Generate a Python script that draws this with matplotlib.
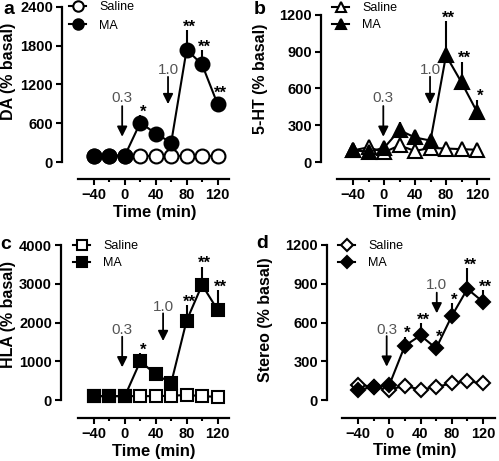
import matplotlib
matplotlib.use("Agg")
import matplotlib.pyplot as plt
import matplotlib.transforms as mtransforms

plt.rcParams["font.family"] = ["Liberation Sans", "DejaVu Sans"]

# sampling times (min)
time = [-40, -20, 0, 20, 40, 60, 80, 100, 120]

# a: DA (% basal)
da_saline = [100, 100, 100, 100, 100, 100, 100, 100, 100]
da_ma = [100, 100, 100, 610, 440, 300, 1740, 1510, 900]
da_ma_err = [0, 0, 0, 110, 0, 0, 300, 220, 110]
da_stars = ["", "", "", "*", "", "", "**", "**", "**"]

# b: 5-HT (% basal)
ht_saline = [95, 120, 80, 135, 90, 115, 110, 105, 100]
ht_ma = [95, 85, 115, 260, 200, 175, 870, 650, 410]
ht_ma_err = [0, 0, 0, 70, 0, 0, 280, 170, 100]
ht_stars = ["", "", "", "", "", "", "**", "**", "*"]

# c: HLA (% basal)
hla_saline = [100, 100, 100, 100, 100, 110, 130, 100, 80]
hla_ma = [100, 100, 100, 1000, 660, 440, 2050, 2970, 2330]
hla_ma_err = [0, 0, 0, 210, 0, 0, 400, 470, 510]
hla_stars = ["", "", "", "*", "", "", "**", "**", "**"]

# d: Stereo (% basal)
st_saline = [120, 100, 80, 110, 80, 100, 130, 145, 130]
st_ma = [80, 100, 115, 420, 500, 400, 650, 860, 760]
st_ma_err = [0, 0, 0, 70, 95, 60, 100, 160, 90]
st_stars = ["", "", "", "*", "**", "*", "*", "**", "**"]

dose_labels = ["0.3", "1.0"]

W, H = 499, 461
fig = plt.figure(figsize=(W / 100, H / 100), dpi=100)
# pixel coords, origin top-left
px = mtransforms.Affine2D().scale(1 / W, -1 / H).translate(0, 1) + fig.transFigure

panels = [
    dict(letter="a", ylabel="DA (% basal)", sal=da_saline, ma=da_ma, err=da_ma_err, stars=da_stars,
         marker="o", ms=10, yticks=[0, 600, 1200, 1800, 2400],
         box=(62, 7, 162, 94, 217.5), xaxis_off=17, letter_xy=(9, 10),
         ylab_xy=(9, 71), xlab_xy=(155, 212), leg_xy=(69, 1), leg_space=0.55,
         arrows=[(-3.5, 984, 865, 391), (55.9, 1421, 1318, 896)]),
    dict(letter="b", ylabel="5-HT (% basal)", sal=ht_saline, ma=ht_ma, err=ht_ma_err, stars=ht_stars,
         marker="^", ms=10, yticks=[0, 300, 600, 900, 1200],
         box=(321, 15, 162, 353, 477), xaxis_off=17, letter_xy=(260, 10),
         ylab_xy=(261, 79), xlab_xy=(415, 212), leg_xy=(332, 2), leg_space=0.4,
         arrows=[(-0.9, 520, 457, 206), (59.4, 751, 696, 473)]),
    dict(letter="c", ylabel="HLA (% basal)", sal=hla_saline, ma=hla_ma, err=hla_ma_err, stars=hla_stars,
         marker="s", ms=9.2, yticks=[0, 1000, 2000, 3000, 4000],
         box=(61, 245, 400, 94, 217.5), xaxis_off=18, letter_xy=(6, 244),
         ylab_xy=(9, 314), xlab_xy=(154, 451), leg_xy=(73, 240), leg_space=0.4,
         arrows=[(-3.5, 1806, 1633, 844), (49.5, 2391, 2236, 1522)]),
    dict(letter="d", ylabel="Stereo (% basal)", sal=st_saline, ma=st_ma, err=st_ma_err, stars=st_stars,
         marker="D", ms=7.6, yticks=[0, 300, 600, 900, 1200],
         box=(327, 245, 400, 358, 483), xaxis_off=18, letter_xy=(262, 243),
         ylab_xy=(266, 320), xlab_xy=(415, 450), leg_xy=(338, 240), leg_space=0.4,
         arrows=[(-3.3, 542, 495, 258), (60.8, 890, 831, 671)]),
]

for p in panels:
    left, top, bottom, x_m40, x_120 = p["box"]
    s = (x_120 - x_m40) / 160.0
    right = x_120 + 25
    ax = fig.add_axes([left / W, 1 - bottom / H, (right - left) / W, (bottom - top) / H])
    ax.set_xlim(-40 - (x_m40 - left) / s, 120 + 25 / s)
    ymax = p["yticks"][-1]
    ax.set_ylim(0, ymax)

    ma_top = [m + e for m, e in zip(p["ma"], p["err"])]
    ax.vlines(time, p["ma"], ma_top, color="black", lw=1.5, zorder=1)
    ax.plot(time, p["sal"], marker=p["marker"], color="black", mfc="white", mec="black",
            ms=p["ms"], mew=1.5, lw=1.5, label="Saline", zorder=2, clip_on=False)
    ax.plot(time, p["ma"], marker=p["marker"], color="black", mfc="black", mec="black",
            ms=p["ms"], mew=1.5, lw=1.5, label="MA", zorder=3, clip_on=False)

    for t, y, st in zip(time, ma_top, p["stars"]):
        if st:
            ax.annotate(st, (t, y), xytext=(2, -1), textcoords="offset points",
                        ha="center", va="baseline", fontsize=12, fontweight="bold")

    for lab, (ax_x, y_txt, y_tail, y_tip) in zip(dose_labels, p["arrows"]):
        ax.text(ax_x, y_txt, lab, ha="center", va="center", color="#555555", fontsize=11)
        ax.annotate("", xy=(ax_x, y_tip), xytext=(ax_x, y_tail),
                    arrowprops=dict(arrowstyle="-|>,head_width=0.3,head_length=0.6",
                                    color="black", lw=1.3, shrinkA=0, shrinkB=0))

    for side in ["top", "right"]:
        ax.spines[side].set_visible(False)
    for side in ["left", "bottom"]:
        ax.spines[side].set_linewidth(1.6)
    ax.spines["left"].set_bounds(0, ymax)
    ax.spines["bottom"].set_position(("outward", p["xaxis_off"] * 0.72))
    ax.spines["bottom"].set_bounds(-61, 135)

    ax.set_xticks([-40, 0, 40, 80, 120])
    ax.set_xticks([-20, 20, 60, 100], minor=True)
    ax.set_yticks(p["yticks"])
    ax.tick_params(which="major", length=4, width=1.5, labelsize=10.5, pad=2.5)
    ax.tick_params(which="minor", length=2.5, width=1.5)
    for lbl in ax.get_xticklabels() + ax.get_yticklabels():
        lbl.set_fontweight("bold")

    ax.set_ylabel(p["ylabel"], fontsize=11.5, fontweight="bold")
    ax.yaxis.label.set_verticalalignment("center")
    ax.yaxis.set_label_coords(*p["ylab_xy"], transform=px)
    ax.set_xlabel("Time (min)", fontsize=12, fontweight="bold")
    ax.xaxis.label.set_verticalalignment("center")
    ax.xaxis.set_label_coords(*p["xlab_xy"], transform=px)

    ax.legend(loc="upper left", bbox_to_anchor=p["leg_xy"], bbox_transform=px,
              frameon=False, fontsize=9, borderpad=0, borderaxespad=0,
              handlelength=1.4, handletextpad=1.0, labelspacing=p["leg_space"],
              markerscale=0.75)

    fig.text(*p["letter_xy"], p["letter"], transform=px, ha="center", va="center",
             fontsize=14, fontweight="bold")

fig.savefig("out.png", dpi=100)
